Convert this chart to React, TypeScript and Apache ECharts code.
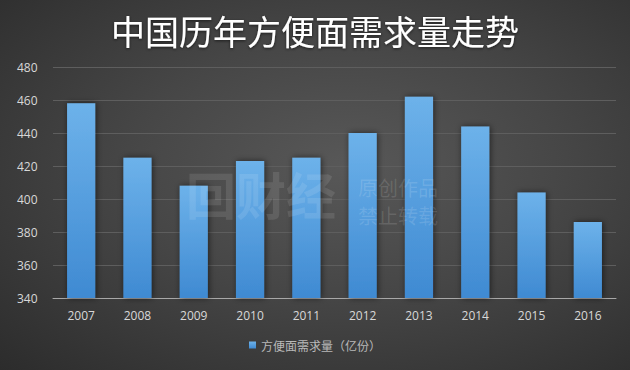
import React, { useEffect, useRef } from "react";
import * as echarts from "echarts";

const years = ["2007", "2008", "2009", "2010", "2011", "2012", "2013", "2014", "2015", "2016"];
const demand = [458, 425, 408, 423, 425, 440, 462, 444, 404, 386];
const seriesName = "方便面需求量（亿份）";
const titleText = "中国历年方便面需求量走势";

export default function App() {
  const ref = useRef<HTMLDivElement>(null);
  useEffect(() => {
    if (!ref.current) return;
    const chart = echarts.init(ref.current, undefined, { renderer: "svg" });
    chart.setOption({
      animation: false,
      backgroundColor: "transparent",
      title: {
        text: titleText,
        left: "center",
        top: 8,
        textStyle: {
          color: "#ffffff",
          fontSize: 34,
          fontWeight: "normal",
          fontFamily: "Noto Sans CJK SC",
          textShadowColor: "rgba(0,0,0,0.6)",
          textShadowBlur: 3,
          textShadowOffsetY: 1,
        },
      },
      grid: { left: 53, right: 14, top: 67, bottom: 72 },
      legend: {
        bottom: 14,
        left: "center",
        itemWidth: 7,
        itemHeight: 7,
        itemGap: 4,
        icon: "rect",
        textStyle: { color: "#b8b8b8", fontSize: 12, fontFamily: "Noto Sans CJK SC" },
        data: [seriesName],
      },
      xAxis: {
        type: "category",
        data: years,
        axisLine: { lineStyle: { color: "#a8a8a8", width: 1 } },
        axisTick: { show: false },
        axisLabel: { color: "#d8d8d8", fontSize: 12, margin: 11, fontFamily: "Open Sans" },
      },
      yAxis: {
        type: "value",
        min: 340,
        max: 480,
        interval: 20,
        axisLine: { show: false },
        axisTick: { show: false },
        splitLine: { lineStyle: { color: "#5e5e5e", width: 1 } },
        axisLabel: {
          color: "#d8d8d8",
          fontSize: 12,
          fontFamily: "Open Sans",
          align: "left",
          margin: 36,
        },
      },
      graphic: [
        {
          type: "text",
          left: 358,
          top: 177,
          silent: true,
          z: 100,
          style: {
            text: "原创作品",
            fill: "rgba(255,255,255,0.13)",
            fontSize: 20,
            lineHeight: 20,
            fontFamily: "Noto Sans CJK SC",
          },
        },
        {
          type: "text",
          left: 358,
          top: 205,
          silent: true,
          z: 100,
          style: {
            text: "禁止转载",
            fill: "rgba(255,255,255,0.13)",
            fontSize: 20,
            lineHeight: 20,
            fontFamily: "Noto Sans CJK SC",
          },
        },
        {
          type: "text",
          left: 186,
          top: 168,
          silent: true,
          z: 100,
          style: {
            text: "回财经",
            fill: "rgba(255,255,255,0.1)",
            fontSize: 50,
            fontWeight: "bold",
            fontFamily: "Noto Sans CJK SC",
          },
        },
      ],
      series: [
        {
          name: seriesName,
          type: "bar",
          data: demand,
          barWidth: "50%",
          itemStyle: {
            color: new echarts.graphic.LinearGradient(0, 0, 0, 1, [
              { offset: 0, color: "#6db2ea" },
              { offset: 1, color: "#3f8ad2" },
            ]),
            shadowColor: "rgba(0,0,0,0.55)",
            shadowBlur: 6,
            shadowOffsetX: 1,
          },
        },
      ],
    });
    return () => chart.dispose();
  }, []);
  return (
    <div
      style={{
        position: "absolute",
        left: 0,
        top: 0,
        width: 630,
        height: 370,
        background: "radial-gradient(ellipse at 55% 45%, #585858 0%, #464646 45%, #2c2c2c 100%)",
      }}
    >
      <div ref={ref} style={{ width: 630, height: 370 }} />
    </div>
  );
}
